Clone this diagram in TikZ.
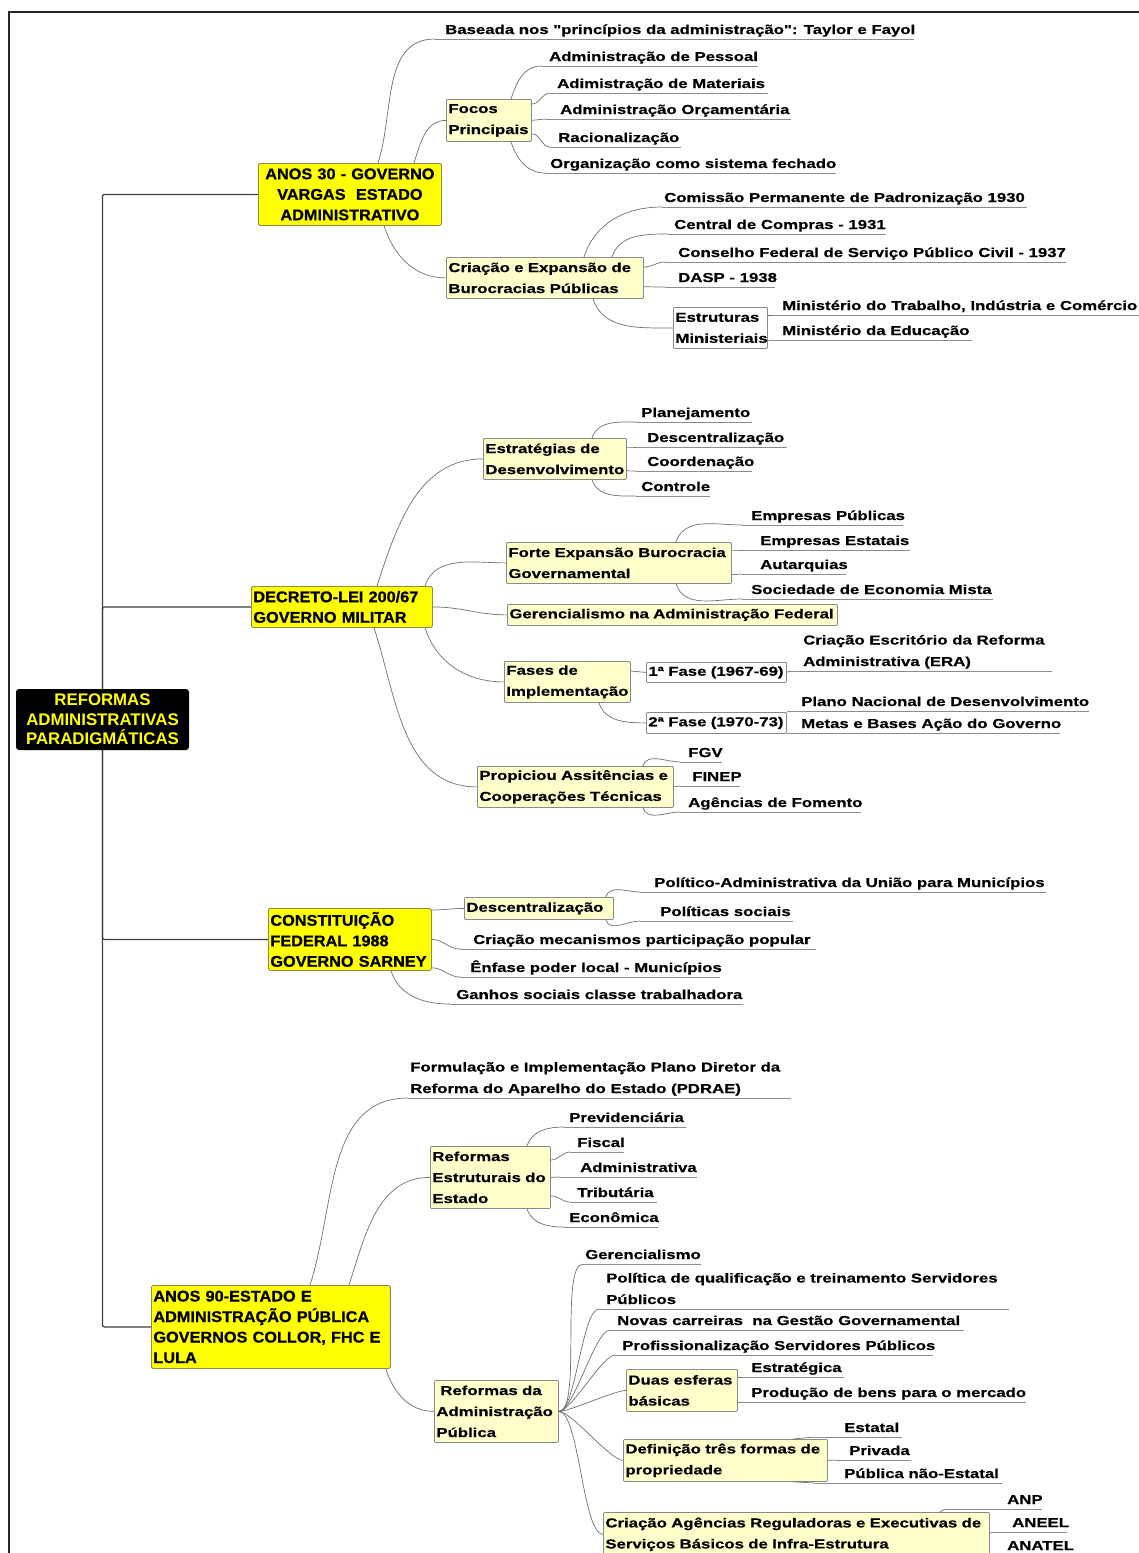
\documentclass[tikz,border=0pt]{standalone}
\usepackage{fontspec}
\setmainfont{Liberation Sans}
\newfontfamily\leaffont{Liberation Sans}[FakeStretch=1.29, FakeBold=0.5]
\newfontfamily\headfont{Liberation Sans}[FakeStretch=1.05, FakeBold=0.8]
\usetikzlibrary{backgrounds}
\hyphenpenalty=10000
\exhyphenpenalty=10000

\definecolor{linkgray}{HTML}{707070}
\definecolor{ulgray}{HTML}{8C8C8C}
\definecolor{boxedge}{HTML}{8A8A8A}
\definecolor{mainedge}{HTML}{8C8C50}
\definecolor{paleyellow}{HTML}{FFFFCC}
\definecolor{brightyellow}{HTML}{FFFF00}
\definecolor{trunkgray}{HTML}{404040}

\tikzset{
  leaf/.style={font=\leaffont\bfseries\fontsize{13}{21}\selectfont, inner sep=0pt, anchor=base west},
  subbox/.style={draw=boxedge, fill=paleyellow, line width=0.8pt, rounded corners=1pt,
    font=\leaffont\bfseries\fontsize{13}{21}\selectfont, align=left},
  whitebox/.style={subbox, fill=white},
  mainbox/.style={draw=mainedge, fill=brightyellow, line width=0.8pt, rounded corners=1.5pt,
    font=\headfont\bfseries\fontsize{15.5}{20.5}\selectfont, align=left},
  rootbox/.style={fill=black, rounded corners=3pt, text=brightyellow,
    font=\bfseries\fontsize{16.8}{19.5}\selectfont, align=center},
  link/.style={draw=linkgray, line width=0.7pt},
  up/.style={out=72, in=180},
  down/.style={out=-72, in=180},
  fan/.style={out=0, in=180, looseness=0.4},
  uline/.style={draw=ulgray, line width=0.9pt},
  trunk/.style={draw=trunkgray, line width=1.3pt, rounded corners=2pt},
}

% box given by its corners (x0,y0) and (x1,y1)
\newcommand\mmbox[7][]{%
  \pgfmathsetmacro\mmw{#5-#3}%
  \pgfmathsetmacro\mmh{#6-#4}%
  \pgfmathsetmacro\mmt{#5-#3-4}%
  \node[#1, anchor=north west, inner xsep=2pt, inner ysep=0pt,
        minimum width=\mmw pt, minimum height=\mmh pt, text width=\mmt pt] (#2) at (#3,#4) {#7};}

% underlined topic: name, line start x, line end x, line y, text x, text
\newcommand\mmleaf[6]{%
  \coordinate (#1-s) at (#2,#4);
  \coordinate (#1-e) at (#3,#4);
  \draw[uline] (#1-s) -- (#1-e);
  \node[leaf] (#1) at (#5,#4-5) {#6};}

% two-line underlined topic
\newcommand\mmleafii[7]{%
  \coordinate (#1-s) at (#2,#4);
  \coordinate (#1-e) at (#3,#4);
  \draw[uline] (#1-s) -- (#1-e);
  \node[leaf] (#1) at (#5,#4-26.5) {#6};
  \node[leaf] (#1-b) at (#5,#4-5) {#7};}

\begin{document}
\begin{tikzpicture}[x=1pt,y=-1pt]
\useasboundingbox (0,0) rectangle (1139,1553);
\begin{pgfonlayer}{background}
  \fill[white] (0,0) rectangle (1139,1553);
\end{pgfonlayer}
\draw[line width=2pt, black!85] (9,1600) -- (9,12) -- (1200,12);

% central topic
\node[rootbox, minimum width=173pt, minimum height=61pt, inner sep=0pt] (root) at (102.5,719.5)
  {REFORMAS\\ADMINISTRATIVAS\\PARADIGMÁTICAS};

% ---------------- Anos 30 ----------------
\mmbox[mainbox,align=center]{a30}{258}{163}{441}{225}{ANOS~30~-~GOVERNO\\VARGAS~~ESTADO\\ADMINISTRATIVO}
\mmbox[subbox]{focos}{446}{99}{531}{141}{Focos\\Principais}
\mmbox[subbox]{cri}{446}{257}{643}{298}{Criação~e~Expansão~de\\Burocracias~Públicas}
\mmbox[whitebox]{est}{673}{307}{767}{348}{Estruturas\\Ministeriais}

\mmleaf{bas}{435}{914}{39}{445}{Baseada nos "princípios da administração": Taylor e Fayol}
\mmleaf{pes}{541}{758}{66}{549}{Administração de Pessoal}
\mmleaf{mat}{550}{768}{93}{557}{Adimistração de Materiais}
\mmleaf{orc}{545}{791}{119}{560}{Administração Orçamentária}
\mmleaf{rac}{550}{681}{147}{558}{Racionalização}
\mmleaf{org}{545}{836}{173}{550}{Organização como sistema fechado}
\mmleaf{cpp}{662}{1027}{207}{664}{Comissão Permanente de Padronização 1930}
\mmleaf{ccp}{668}{886}{234}{674}{Central de Compras - 1931}
\mmleaf{cfs}{665}{1066}{262}{678}{Conselho Federal de Serviço Público Civil - 1937}
\mmleaf{dasp}{665}{775}{287}{678}{DASP - 1938}
\mmleaf{mtr}{772}{1145}{315}{782}{Ministério do Trabalho, Indústria e Comércio}
\mmleaf{med}{772}{972}{340}{782}{Ministério da Educação}

\draw[link] ([xshift=120pt]a30.north west) to[up] (bas-s);
\draw[link] ([xshift=156pt]a30.north west) to[up] (focos.west);
\draw[link] ([xshift=126pt]a30.south west) to[down] (cri.west);
\draw[link] ([xshift=65pt]focos.north west) to[up] (pes-s);
\draw[link] ([yshift=-5pt]focos.north east) to[out=0,in=180] (mat-s);
\draw[link] (focos.east) -- (orc-s);
\draw[link] ([yshift=8pt]focos.south east) to[out=0,in=180] (rac-s);
\draw[link] ([xshift=65pt]focos.south west) to[down] (org-s);
\draw[link] ([xshift=138pt]cri.north west) to[up] (cpp-s);
\draw[link] ([xshift=166pt]cri.north west) to[up] (ccp-s);
\draw[link] ([yshift=-10pt]cri.north east) to[out=0,in=180] (cfs-s);
\draw[link] ([yshift=12pt]cri.south east) to[out=0,in=180] (dasp-s);
\draw[link] ([xshift=147pt]cri.south west) to[down] (est.west);
\draw[link] ([yshift=-8pt]est.north east) -- (mtr-s);
\draw[link] ([yshift=8pt]est.south east) -- (med-s);

% ---------------- Decreto-Lei 200/67 ----------------
\mmbox[mainbox]{dec}{251}{586}{432}{627}{DECRETO-LEI~200/67\\GOVERNO~MILITAR}
\mmbox[subbox]{esd}{483}{438}{626}{479}{Estratégias~de\\Desenvolvimento}
\mmbox[subbox]{feb}{506}{542}{731}{583}{Forte~Expansão~Burocracia\\Governamental}
\mmbox[subbox]{ger}{507}{604}{837}{625}{Gerencialismo~na~Administração~Federal}
\mmbox[subbox]{fas}{504}{661}{630}{702}{Fases~de\\Implementação}
\mmbox[whitebox]{f1}{646}{662}{786}{682}{1ª~Fase~(1967-69)}
\mmbox[whitebox]{f2}{646}{712}{786}{733}{2ª~Fase~(1970-73)}
\mmbox[subbox]{pat}{477}{766}{673}{807}{Propiciou~Assitências~e\\Cooperações~Técnicas}

\mmleaf{pla}{636}{752}{422}{641}{Planejamento}
\mmleaf{dsc}{636}{787}{447}{647}{Descentralização}
\mmleaf{coo}{636}{752}{471}{647}{Coordenação}
\mmleaf{ctl}{636}{710}{496}{641}{Controle}
\mmleaf{ep}{742}{903}{525}{751}{Empresas Públicas}
\mmleaf{ee}{742}{910}{550}{760}{Empresas Estatais}
\mmleaf{aut}{742}{846}{574}{760}{Autarquias}
\mmleaf{sem}{742}{993}{599}{751}{Sociedade de Economia Mista}
\mmleafii{era}{790}{1052}{671}{803}{Criação Escritório da Reforma}{Administrativa (ERA)}
\mmleaf{pnd}{790}{1089}{711}{801}{Plano Nacional de Desenvolvimento}
\mmleaf{mba}{790}{1060}{733}{801}{Metas e Bases Ação do Governo}
\mmleaf{fgv}{680}{722}{762}{688}{FGV}
\mmleaf{fin}{680}{740}{786}{692}{FINEP}
\mmleaf{agf}{680}{861}{812}{688}{Agências de Fomento}

\draw[link] ([xshift=126pt]dec.north west) to[up] (esd.west);
\draw[link] ([xshift=174pt]dec.north west) to[up] (feb.west);
\draw[link] (dec.east) to[out=0,in=180] (ger.west);
\draw[link] ([xshift=174pt]dec.south west) to[down] (fas.west);
\draw[link] ([xshift=123pt]dec.south west) to[down] (pat.west);
\draw[link] ([xshift=109pt]esd.north west) to[up] (pla-s);
\draw[link] ([yshift=-9pt]esd.north east) to[out=0,in=180] (dsc-s);
\draw[link] ([yshift=9pt]esd.south east) to[out=0,in=180] (coo-s);
\draw[link] ([xshift=109pt]esd.south west) to[down] (ctl-s);
\draw[link] ([xshift=170pt]feb.north west) to[up] (ep-s);
\draw[link] ([yshift=-8pt]feb.north east) to[out=0,in=180] (ee-s);
\draw[link] ([yshift=9pt]feb.south east) to[out=0,in=180] (aut-s);
\draw[link] ([xshift=170pt]feb.south west) to[down] (sem-s);
\draw[link] ([yshift=-10pt]fas.north east) -- (f1.west);
\draw[link] ([xshift=95pt]fas.south west) to[down] (f2.west);
\draw[link] (f1.east) -- (era-s);
\draw[link] (f2.north east) -- (pnd-s);
\draw[link] (f2.south east) -- (mba-s);
\draw[link] ([xshift=166pt]pat.north west) to[up] (fgv-s);
\draw[link] (pat.east) -- (fin-s);
\draw[link] ([xshift=166pt]pat.south west) to[down] (agf-s);

% ---------------- Constituicao 1988 ----------------
\mmbox[mainbox]{con}{268}{908}{431}{970}{CONSTITUIÇÃO\\FEDERAL~1988\\GOVERNO~SARNEY}
\mmbox[subbox]{desc}{464}{897}{613}{919}{Descentralização}

\mmleaf{pam}{640}{1046}{892}{654}{Político-Administrativa da União para Municípios}
\mmleaf{pso}{640}{793}{921}{660}{Políticas sociais}
\mmleaf{cmp}{460}{816}{949}{473}{Criação mecanismos participação popular}
\mmleaf{epl}{460}{720}{977}{470}{Ênfase poder local - Municípios}
\mmleaf{gsc}{450}{743}{1004}{456}{Ganhos sociais classe trabalhadora}

\draw[link] ([yshift=-2pt]con.north east) to[out=0,in=180] (desc.west);
\draw[link] ([xshift=-8pt]desc.north east) to[up] (pam-s);
\draw[link] ([xshift=-8pt]desc.south east) to[down] (pso-s);
\draw[link] (con.east) to[out=0,in=180] (cmp-s);
\draw[link] ([yshift=3pt]con.south east) to[out=0,in=180] (epl-s);
\draw[link] ([xshift=123pt]con.south west) to[down] (gsc-s);

% ---------------- Anos 90 ----------------
\mmbox[mainbox]{a90}{151}{1285}{390}{1368}{ANOS~90-ESTADO~E\\ADMINISTRAÇÃO~PÚBLICA\\GOVERNOS~COLLOR,~FHC~E\\LULA}
\mmbox[subbox]{res}{430}{1146}{550}{1208}{Reformas\\Estruturais~do\\Estado}
\mmbox[subbox]{rap}{434}{1380}{558}{1442}{\hspace*{4pt}Reformas~da\\Administração\\Pública}
\mmbox[subbox]{due}{626}{1369}{737}{1411}{Duas~esferas\\básicas}
\mmbox[subbox]{dtf}{623}{1439}{827}{1481}{Definição~três~formas~de\\propriedade}
\mmbox[subbox]{cag}{603}{1512}{989}{1556}{Criação~Agências~Reguladoras~e~Executivas~de\\Serviços~Básicos~de~Infra-Estrutura}

\mmleafii{pdr}{408}{791}{1098}{410}{Formulação e Implementação Plano Diretor da}{Reforma do Aparelho do Estado (PDRAE)}
\mmleaf{prv}{564}{686}{1127}{569}{Previdenciária}
\mmleaf{fis}{570}{624}{1152}{577}{Fiscal}
\mmleaf{adm}{560}{697}{1177}{580}{Administrativa}
\mmleaf{tri}{570}{657}{1202}{577}{Tributária}
\mmleaf{eco}{564}{658}{1227}{569}{Econômica}
\mmleaf{gerc}{583}{701}{1264}{585}{Gerencialismo}
\mmleafii{pqt}{599}{1009}{1309}{606}{Política de qualificação e treinamento Servidores}{Públicos}
\mmleaf{ncg}{610}{964}{1330}{617}{Novas carreiras\ \ na Gestão Governamental}
\mmleaf{pro}{615}{933}{1355}{622}{Profissionalização Servidores Públicos}
\mmleaf{estr}{742}{844}{1377}{751}{Estratégica}
\mmleaf{prod}{742}{1026}{1402}{751}{Produção de bens para o mercado}
\mmleaf{esta}{815}{902}{1437}{844}{Estatal}
\mmleaf{priv}{835}{911}{1460}{849}{Privada}
\mmleaf{pne}{815}{1002}{1483}{844}{Pública não-Estatal}
\mmleaf{anp}{945}{1042}{1509}{1007}{ANP}
\mmleaf{anl}{995}{1067}{1532}{1012}{ANEEL}
\mmleaf{anat}{995}{1072}{1555}{1007}{ANATEL}

\draw[link] ([xshift=159pt]a90.north west) to[up] (pdr-s);
\draw[link] ([xshift=198pt]a90.north west) to[up] (res.west);
\draw[link] ([xshift=-5pt]a90.south east) to[down] (rap.west);
\draw[link] ([xshift=97pt]res.north west) to[up] (prv-s);
\draw[link] ([yshift=-14pt]res.north east) to[out=0,in=180] (fis-s);
\draw[link] (res.east) -- (adm-s);
\draw[link] ([yshift=13pt]res.south east) to[out=0,in=180] (tri-s);
\draw[link] ([xshift=97pt]res.south west) to[down] (eco-s);
\foreach \t in {gerc-s,pqt-s,ncg-s,pro-s,due.west,dtf.west,cag.west}
  \draw[link] (rap.east) to[fan] (\t);
\draw[link] ([yshift=-8pt]due.north east) -- (estr-s);
\draw[link] ([yshift=9pt]due.south east) -- (prod-s);
\draw[link] ([xshift=-35pt]dtf.north east) -- (esta-s);
\draw[link] (dtf.east) -- (priv-s);
\draw[link] ([xshift=-35pt]dtf.south east) -- (pne-s);
\draw[link] ([xshift=-50pt]cag.north east) -- (anp-s);
\draw[link] ([yshift=-21pt]cag.north east) -- (anl-s);
\draw[link] ([xshift=-50pt]cag.south east) -- (anat-s);

% trunk joining the central topic to the four periods
\begin{pgfonlayer}{background}
  \draw[trunk] (root.north) |- (a30.west);
  \draw[trunk] (root.north) |- (dec.west);
  \draw[trunk] (root.south) |- (con.west);
  \draw[trunk] (root.south) |- (a90.west);
\end{pgfonlayer}
\end{tikzpicture}
\end{document}
